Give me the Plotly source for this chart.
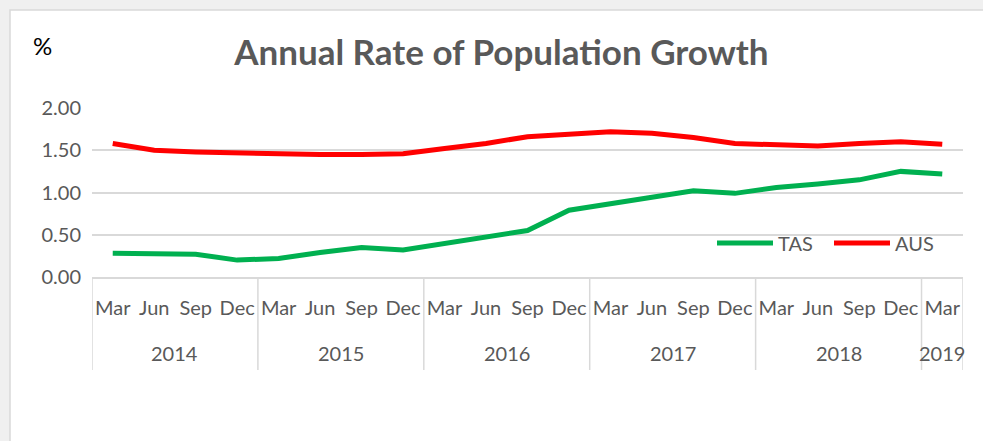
import plotly.graph_objects as go

years = ["2014"] * 4 + ["2015"] * 4 + ["2016"] * 4 + ["2017"] * 4 + ["2018"] * 4 + ["2019"]
quarters = ["Mar", "Jun", "Sep", "Dec"] * 5 + ["Mar"]

tas = [0.28, 0.27, 0.27, 0.20, 0.22, 0.29, 0.35, 0.32, 0.40, 0.47, 0.55,
       0.79, 0.87, 0.95, 1.02, 0.99, 1.06, 1.10, 1.15, 1.25, 1.22]
aus = [1.58, 1.50, 1.48, 1.47, 1.45, 1.45, 1.45, 1.46, 1.52, 1.58, 1.66,
       1.69, 1.72, 1.70, 1.65, 1.58, 1.56, 1.55, 1.58, 1.60, 1.57]

y_ticks = [0, 0.5, 1.0, 1.5, 2.0]
y_tick_text = ["0.00", "0.50", "1.00", "1.50", "2.00"]

FONT = "Lato"
GREY = "#595959"
LINE_GREY = "#d9d9d9"

keys = [f"{q} {y}" for q, y in zip(quarters, years)]
n = len(keys)

# year groups (index ranges) derived from the data arrays
groups = []
for i, y in enumerate(years):
    if groups and groups[-1][0] == y:
        groups[-1][2] = i
    else:
        groups.append([y, i, i])

fig = go.Figure()
fig.add_trace(go.Scatter(x=keys, y=tas, mode="lines", name="TAS",
                         line=dict(color="#00b050", width=5)))
fig.add_trace(go.Scatter(x=keys, y=aus, mode="lines", name="AUS",
                         line=dict(color="#ff0000", width=5)))

AX_BOTTOM = -(370 - 277) / 169

shapes = [dict(type="rect", xref="paper", yref="paper",
               x0=(10 - 92) / 871, x1=1.3, y0=-1.3, y1=(277 - 10) / 169,
               fillcolor="white", line=dict(color=LINE_GREY, width=1.5), layer="below")]
annotations = [dict(text="%", xref="paper", yref="paper", x=(31 - 92) / 871,
                    y=(277 - 46) / 169, xanchor="left", yanchor="middle",
                    showarrow=False, font=dict(family=FONT, size=24, color="black"))]

boundaries = [g[1] - 0.5 for g in groups] + [groups[-1][2] + 0.5]
for b in boundaries:
    shapes.append(dict(type="line", xref="x", yref="paper", x0=b, x1=b,
                       y0=0, y1=AX_BOTTOM, line=dict(color=LINE_GREY, width=1.5)))
for y, i0, i1 in groups:
    annotations.append(dict(text=y, xref="x", yref="paper", x=(i0 + i1) / 2,
                            y=-(353 - 277) / 169, xanchor="center", yanchor="middle",
                            showarrow=False, font=dict(family=FONT, size=20, color=GREY)))

fig.update_layout(
    width=983, height=441,
    margin=dict(l=92, r=20, t=108, b=164),
    paper_bgcolor="#f0f0f0",
    plot_bgcolor="white",
    font=dict(family=FONT, color=GREY, size=20),
    title=dict(text="<b>Annual Rate of Population Growth</b>", x=0.51, xref="container",
               y=1 - 53 / 441, yref="container", xanchor="center", yanchor="middle",
               font=dict(family=FONT, size=35, color=GREY)),
    showlegend=True,
    legend=dict(orientation="h", x=(712 - 92) / 871, y=(277 - 243) / 169,
                xanchor="left", yanchor="middle",
                bgcolor="rgba(0,0,0,0)", font=dict(size=20, color=GREY),
                itemwidth=56, entrywidth=46, tracegroupgap=0, traceorder="normal"),
    shapes=shapes,
    annotations=annotations,
)

fig.update_yaxes(range=[0, 2.0], tickvals=y_ticks, ticktext=y_tick_text,
                 showgrid=True, gridcolor=LINE_GREY, gridwidth=1.5,
                 zeroline=False, ticks="", ticklabelstandoff=10, showline=False,
                 automargin=False)
fig.update_xaxes(type="category", range=[-0.5, n - 0.5], tickvals=keys,
                 ticktext=quarters, showgrid=False, showline=True,
                 linecolor=LINE_GREY, linewidth=1.5, ticks="", ticklabelstandoff=12,
                 tickfont=dict(size=20, color=GREY), automargin=False)

fig.write_html("out.html", config={"displayModeBar": False},
               post_script="document.body.style.margin='0';")
